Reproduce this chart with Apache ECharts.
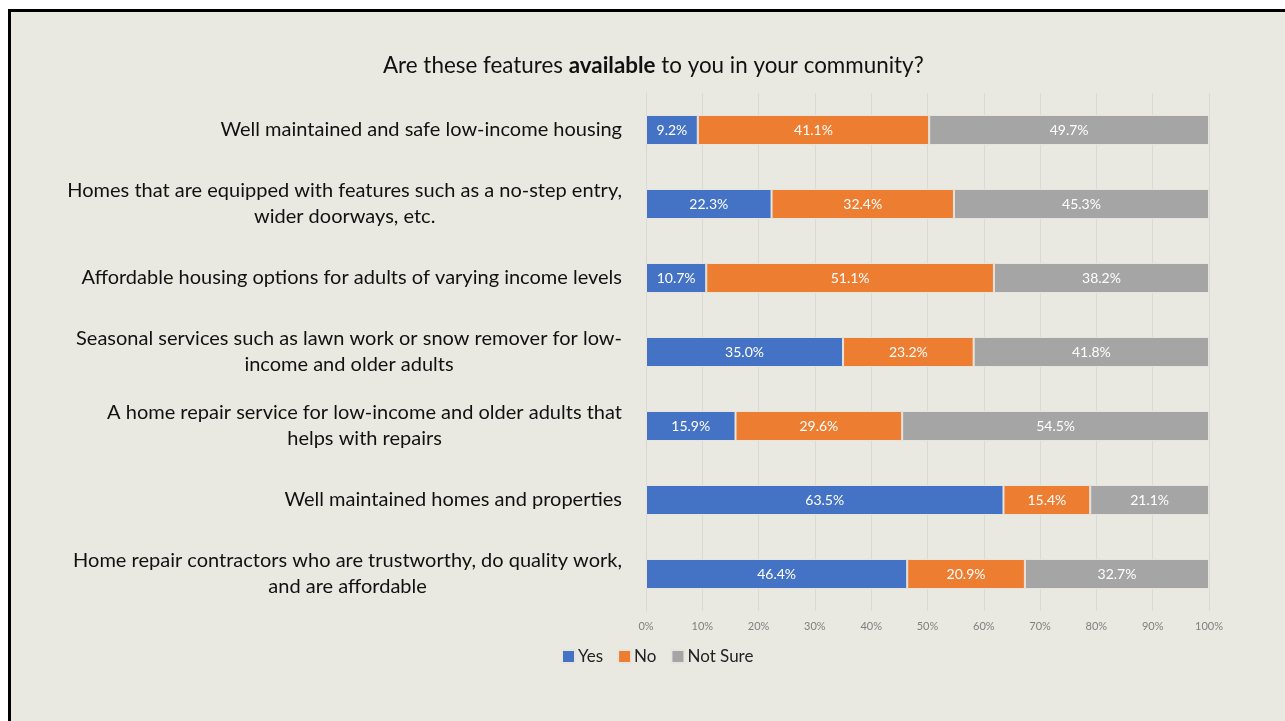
<!DOCTYPE html>
<html>
<head>
<meta charset="utf-8">
<script src="https://cdn.jsdelivr.net/npm/echarts@6/dist/echarts.min.js"></script>
<style>
  body { margin: 0; background: #fff; }
  .edge { position: absolute; }
</style>
</head>
<body>
<div id="main" style="position:absolute;left:0;top:0;width:1285px;height:721px"></div>
<div class="edge" style="left:0;top:0;width:1285px;height:9px;background:#fff"></div>
<div class="edge" style="left:0;top:0;width:8px;height:721px;background:#fff"></div>
<div class="edge" style="left:8px;top:9px;width:1277px;height:3px;background:#000"></div>
<div class="edge" style="left:8px;top:9px;width:3px;height:712px;background:#000"></div>
<script>
  // survey items, top to bottom
  var categories = [
    "Well maintained and safe low-income housing",
    "Homes that are equipped with features such as a no-step entry,\nwider doorways, etc.",
    "Affordable housing options for adults of varying income levels",
    "Seasonal services such as lawn work or snow remover for low-\nincome and older adults",
    "A home repair service for low-income and older adults that\nhelps with repairs",
    "Well maintained homes and properties",
    "Home repair contractors who are trustworthy, do quality work,\nand are affordable",
  ];
  var yes = [9.2, 22.3, 10.7, 35.0, 15.9, 63.5, 46.4];
  var no = [41.1, 32.4, 51.1, 23.2, 29.6, 15.4, 20.9];
  var notSure = [49.7, 45.3, 38.2, 41.8, 54.5, 21.1, 32.7];
  var xTicks = [0, 10, 20, 30, 40, 50, 60, 70, 80, 90, 100];

  var font = "Lato, sans-serif";
  var myChart = echarts.init(document.getElementById("main"));

  function makeSeries(name, values, color) {
    return {
      name: name,
      type: "bar",
      stack: "total",
      barWidth: 30,
      data: values,
      itemStyle: { color: color, borderColor: "#E6E4DC", borderWidth: 1 },
      label: {
        show: true,
        position: "inside",
        color: "#fff",
        fontFamily: font,
        fontSize: 14,
        formatter: function (p) {
          return p.value.toFixed(1) + "%";
        },
      },
    };
  }

  var option = {
    backgroundColor: "#EAE9E1",
    animation: false,
    title: {
      text: "Are these features {b|available} to you in your community?",
      left: 378,
      top: 50,
      textStyle: {
        fontFamily: font,
        fontSize: 22.4,
        fontWeight: "normal",
        color: "#111",
        rich: {
          b: { fontFamily: font, fontSize: 22.4, fontWeight: "bold", color: "#111" },
        },
      },
    },
    legend: {
      bottom: 51,
      left: 556,
      itemWidth: 13,
      itemHeight: 13,
      itemGap: 14,
      icon: "rect",
      textStyle: { fontFamily: font, fontSize: 17, color: "#222", padding: [0, 0, 0, -2] },
      data: ["Yes", "No", "Not Sure"],
    },
    grid: { left: 646, right: 76, top: 93, height: 518, containLabel: false },
    xAxis: {
      type: "value",
      min: 0,
      max: 100,
      interval: 10,
      axisLine: { show: false },
      axisTick: { show: false },
      splitLine: { lineStyle: { color: "#D9D9D6", width: 1 } },
      axisLabel: {
        margin: 10,
        fontFamily: font,
        fontSize: 11,
        color: "#7F7F7F",
        formatter: function (v) {
          return xTicks.indexOf(v) >= 0 ? v + "%" : "";
        },
      },
    },
    yAxis: {
      type: "category",
      inverse: true,
      data: categories,
      axisLine: { show: true, lineStyle: { color: "#D9D9D6" } },
      axisTick: { show: false },
      axisLabel: {
        margin: 24,
        fontFamily: font,
        fontSize: 20,
        color: "#111",
        lineHeight: 26,
        formatter: function (v) {
          return v
            .split("\n")
            .map(function (line) {
              return "{c|" + line + "}";
            })
            .join("\n");
        },
        rich: {
          c: { align: "center", fontFamily: font, fontSize: 20, lineHeight: 26, color: "#111" },
        },
      },
    },
    series: [
      makeSeries("Yes", yes, "#4472C4"),
      makeSeries("No", no, "#ED7D31"),
      makeSeries("Not Sure", notSure, "#A5A5A5"),
    ],
  };

  option && myChart.setOption(option);
</script>
</body>
</html>
